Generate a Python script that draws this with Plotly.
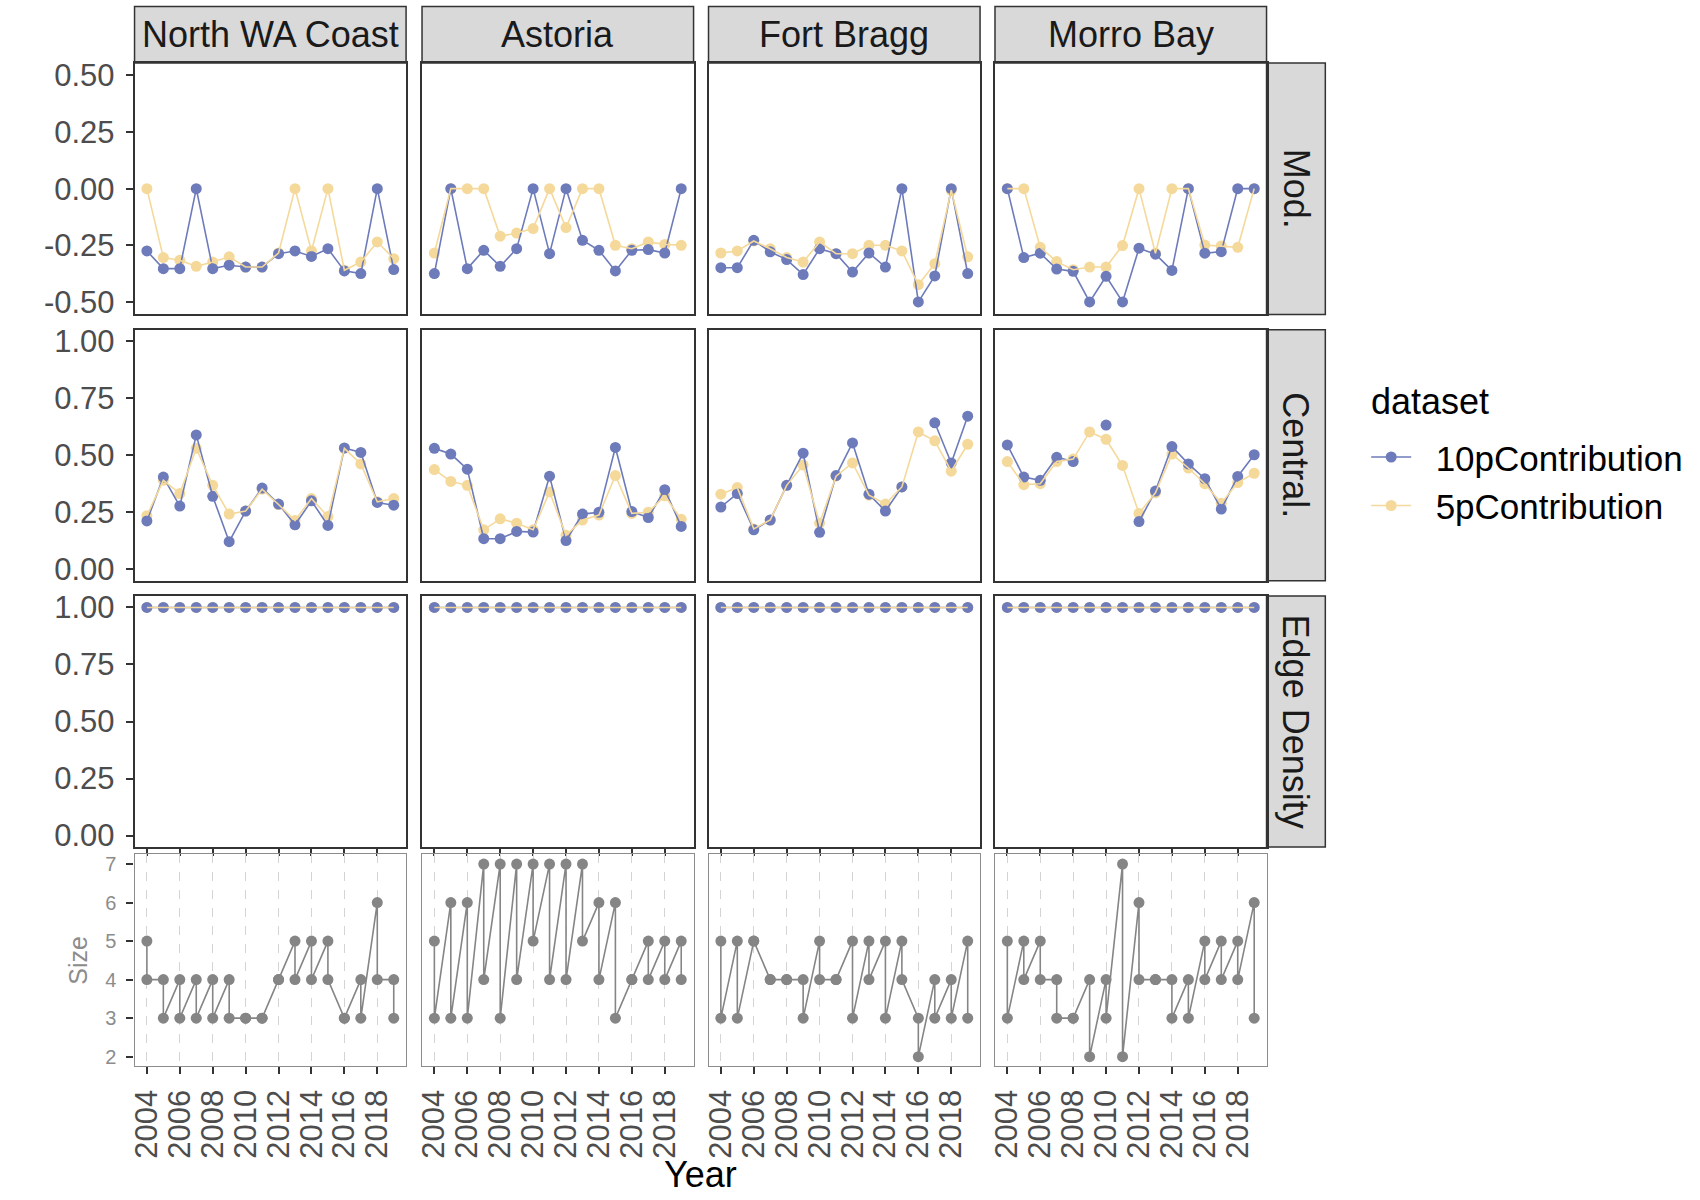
import plotly.graph_objects as go

# ---- data ----
years = list(range(2004, 2020))
sites = ["North WA Coast", "Astoria", "Fort Bragg", "Morro Bay"]
metrics = ["Mod.", "Central.", "Edge Density"]
series_names = ["10pContribution", "5pContribution"]
mod_ticks = [-0.5, -0.25, 0, 0.25, 0.5]
mod_ticktext = ["-0.50", "-0.25", "0.00", "0.25", "0.50"]
unit_ticks = [0, 0.25, 0.5, 0.75, 1.0]
size_ticks = [2, 3, 4, 5, 6, 7]

# Mod. row, one list per site
mod_10p = [
    [-0.275, -0.353, -0.353, 0.0, -0.353, -0.338, -0.346, -0.346, -0.287, -0.275, -0.299, -0.265, -0.363, -0.375, 0.0, -0.357],
    [-0.375, 0.0, -0.353, -0.272, -0.343, -0.265, 0.0, -0.287, 0.0, -0.228, -0.272, -0.363, -0.272, -0.269, -0.284, 0.0],
    [-0.349, -0.349, -0.228, -0.279, -0.313, -0.379, -0.265, -0.287, -0.368, -0.284, -0.346, 0.0, -0.5, -0.385, 0.0, -0.375],
    [0.0, -0.304, -0.285, -0.355, -0.365, -0.5, -0.387, -0.5, -0.263, -0.289, -0.361, 0.0, -0.285, -0.278, 0.0, 0.0],
]
mod_5p = [
    [0.0, -0.304, -0.316, -0.343, -0.324, -0.301, -0.346, -0.346, -0.284, 0.0, -0.275, 0.0, -0.36, -0.324, -0.235, -0.309],
    [-0.284, 0.0, 0.0, 0.0, -0.21, -0.196, -0.176, 0.0, -0.172, 0.0, 0.0, -0.25, -0.265, -0.235, -0.246, -0.25],
    [-0.284, -0.275, -0.231, -0.265, -0.304, -0.324, -0.235, -0.287, -0.287, -0.25, -0.25, -0.275, -0.424, -0.331, -0.007, -0.301],
    [0.0, 0.0, -0.259, -0.322, -0.358, -0.346, -0.346, -0.251, 0.0, -0.285, 0.0, 0.0, -0.249, -0.253, -0.259, 0.0],
]

# Central. row
cen_10p = [
    [0.212, 0.404, 0.277, 0.589, 0.320, 0.121, 0.255, 0.356, 0.286, 0.195, 0.300, 0.192, 0.532, 0.512, 0.293, 0.281],
    [0.530, 0.505, 0.439, 0.134, 0.134, 0.166, 0.163, 0.408, 0.126, 0.242, 0.250, 0.534, 0.253, 0.227, 0.349, 0.188],
    [0.273, 0.332, 0.173, 0.216, 0.368, 0.509, 0.162, 0.411, 0.554, 0.329, 0.255, 0.361, None, 0.642, 0.466, 0.671],
    [0.545, 0.404, 0.390, 0.491, 0.472, None, 0.632, None, 0.209, 0.343, 0.538, 0.462, 0.397, 0.264, 0.407, 0.502],
]
cen_5p = [
    [0.235, 0.390, 0.332, 0.530, 0.368, 0.242, 0.255, 0.351, 0.284, 0.214, 0.310, 0.231, 0.530, 0.462, 0.296, 0.310],
    [0.437, 0.385, 0.368, 0.173, 0.221, 0.202, 0.173, 0.339, 0.149, 0.216, 0.238, 0.411, 0.245, 0.250, 0.322, 0.219],
    [0.329, 0.358, 0.177, 0.216, 0.368, 0.457, 0.202, 0.408, 0.466, 0.325, 0.286, 0.361, 0.602, 0.563, 0.430, 0.548],
    [0.472, 0.371, 0.375, 0.472, 0.483, 0.602, 0.570, 0.455, 0.245, 0.335, 0.505, 0.444, 0.375, 0.289, 0.380, 0.421],
]

# Edge Density row
edge_10p = [
    [1.00, 1.00, 1.00, 1.00, 1.00, 1.00, 1.00, 1.00, 1.00, 1.00, 1.00, 1.00, 1.00, 1.00, 1.00, 1.00],
    [1.00, 1.00, 1.00, 1.00, 1.00, 1.00, 1.00, 1.00, 1.00, 1.00, 1.00, 1.00, 1.00, 1.00, 1.00, 1.00],
    [1.00, 1.00, 1.00, 1.00, 1.00, 1.00, 1.00, 1.00, 1.00, 1.00, 1.00, 1.00, 1.00, 1.00, 1.00, 1.00],
    [1.00, 1.00, 1.00, 1.00, 1.00, 1.00, 1.00, 1.00, 1.00, 1.00, 1.00, 1.00, 1.00, 1.00, 1.00, 1.00],
]
edge_5p = [
    [1.00, 1.00, 1.00, 1.00, 1.00, 1.00, 1.00, 1.00, 1.00, 1.00, 1.00, 1.00, 1.00, 1.00, 1.00, 1.00],
    [1.00, 1.00, 1.00, 1.00, 1.00, 1.00, 1.00, 1.00, 1.00, 1.00, 1.00, 1.00, 1.00, 1.00, 1.00, 1.00],
    [1.00, 1.00, 1.00, 1.00, 1.00, 1.00, 1.00, 1.00, 1.00, 1.00, 1.00, 1.00, 1.00, 1.00, 1.00, 1.00],
    [1.00, 1.00, 1.00, 1.00, 1.00, 1.00, 1.00, 1.00, 1.00, 1.00, 1.00, 1.00, 1.00, 1.00, 1.00, 1.00],
]

# Size row: two values per year, in drawing order
size_vals = [
    [5, 4, 4, 3, 4, 3, 4, 3, 4, 3, 4, 3, 3, 3, 3, 3, 4, 4, 5, 4, 5, 4, 5, 4, 3, 3, 4, 3, 6, 4, 4, 3],
    [5, 3, 6, 3, 6, 3, 7, 4, 7, 3, 7, 4, 7, 5, 7, 4, 7, 4, 7, 5, 6, 4, 6, 3, 4, 4, 5, 4, 5, 4, 5, 4],
    [5, 3, 5, 3, 5, 5, 4, 4, 4, 4, 4, 3, 5, 4, 4, 4, 5, 3, 5, 4, 5, 3, 5, 4, 3, 2, 4, 3, 4, 3, 5, 3],
    [5, 3, 5, 4, 5, 4, 4, 3, 3, 3, 4, 2, 4, 3, 7, 2, 6, 4, 4, 4, 4, 3, 4, 3, 5, 4, 5, 4, 5, 4, 6, 3],
]
size_years = [y for y in years for _ in range(2)]

# ---- styling ----
W, H = 1700, 1200
FONT = "Liberation Sans, Arial, sans-serif"
BLUE = "#6D7BBB"
YELLOW = "#F5D99A"
GREY_PT = "#858585"
col_left = [129, 417.5, 705, 992.5]
col_w = 272.5
row_px = [(57.5, 311.5), (327, 580.5), (596, 849.5), (857, 1071)]
y_ranges = [[-0.555, 0.555], [-0.05, 1.05], [-0.05, 1.05], [1.75, 7.25]]
even_years = years[::2]
PT = 11


def fx(p):
    return p / W


def fy(p):
    return 1 - p / H


fig = go.Figure()
layout_axes = {}

row_data = [(mod_10p, mod_5p), (cen_10p, cen_5p), (edge_10p, edge_5p)]

for r in range(4):
    for c in range(4):
        n = r * 4 + c + 1
        xs = "x" if n == 1 else f"x{n}"
        ys = "y" if n == 1 else f"y{n}"
        xa = dict(
            domain=[fx(col_left[c]), fx(col_left[c] + col_w)],
            anchor=ys, range=[2003.25, 2019.75],
            showline=True, mirror=True, zeroline=False,
            tickvals=even_years, showticklabels=False,
        )
        ya = dict(
            domain=[fy(row_px[r][1]), fy(row_px[r][0])],
            anchor=xs, range=y_ranges[r],
            showline=True, mirror=True, zeroline=False, showgrid=False,
        )
        if r < 3:
            xa.update(linecolor="#333333", linewidth=1.5, showgrid=False,
                      ticks="outside" if r == 2 else "", ticklen=7,
                      tickwidth=1.5, tickcolor="#333333")
            ya.update(linecolor="#333333", linewidth=1.5)
            if c == 0:
                ya.update(ticks="outside", ticklen=7, tickwidth=1.5, tickcolor="#333333",
                          ticklabelstandoff=5,
                          tickfont=dict(family=FONT, size=31, color="#4D4D4D"))
                if r == 0:
                    ya.update(tickvals=mod_ticks, ticktext=mod_ticktext)
                else:
                    ya.update(tickvals=unit_ticks, tickformat=".2f")
            else:
                ya.update(showticklabels=False, ticks="")
            d10, d5 = row_data[r]
            fig.add_trace(go.Scatter(x=years, y=d5[c], mode="markers", xaxis=xs, yaxis=ys,
                                     marker=dict(color=YELLOW, size=PT), showlegend=False))
            fig.add_trace(go.Scatter(x=years, y=d10[c], mode="lines+markers", xaxis=xs, yaxis=ys,
                                     line=dict(color=BLUE, width=1.6),
                                     marker=dict(color=BLUE, size=PT), showlegend=False))
            fig.add_trace(go.Scatter(x=years, y=d5[c], mode="lines", xaxis=xs, yaxis=ys,
                                     line=dict(color=YELLOW, width=1.6), showlegend=False))
        else:
            xa.update(linecolor="#8C8C8C", linewidth=1.2,
                      showgrid=True, gridcolor="#D4D4D4", gridwidth=1.4, griddash="dash",
                      ticks="outside", ticklen=7, tickwidth=1.5, tickcolor="#333333",
                      showticklabels=True, tickangle=-90, ticklabelstandoff=3,
                      tickfont=dict(family=FONT, size=31, color="#4D4D4D"))
            ya.update(linecolor="#8C8C8C", linewidth=1.2, tickvals=size_ticks)
            if c == 0:
                ya.update(ticks="outside", ticklen=7, tickwidth=1.5, tickcolor="#333333",
                          ticklabelstandoff=6,
                          tickfont=dict(family=FONT, size=20, color="#8C8C8C"),
                          title=dict(text="Size", standoff=10,
                                     font=dict(family=FONT, size=25, color="#8C8C8C")))
            else:
                ya.update(showticklabels=False, ticks="")
            fig.add_trace(go.Scatter(x=size_years, y=size_vals[c], mode="lines+markers",
                                     xaxis=xs, yaxis=ys,
                                     line=dict(color=GREY_PT, width=1.6),
                                     marker=dict(color=GREY_PT, size=PT), showlegend=False))
        layout_axes["xaxis" if n == 1 else f"xaxis{n}"] = xa
        layout_axes["yaxis" if n == 1 else f"yaxis{n}"] = ya

# legend keys (small gap between key and label like ggplot)
for name, colr in zip(series_names, [BLUE, YELLOW]):
    fig.add_trace(go.Scatter(x=[None], y=[None], mode="lines+markers",
                             name="\u00a0\u00a0" + name,
                             legendgroup=name, line=dict(color=colr, width=1.6),
                             marker=dict(color=colr, size=PT)))

shapes = []
annotations = []
# top strips
for c, site in enumerate(sites):
    shapes.append(dict(type="rect", xref="paper", yref="paper",
                       x0=fx(col_left[c]), x1=fx(col_left[c] + col_w), y0=fy(57.5), y1=fy(0.5),
                       fillcolor="#D9D9D9", line=dict(color="#333333", width=1.5), layer="below"))
    annotations.append(dict(text=site, xref="paper", yref="paper", showarrow=False,
                            x=fx(col_left[c] + col_w / 2), y=fy(29), xanchor="center", yanchor="middle",
                            font=dict(family=FONT, size=36, color="#1A1A1A")))
# right strips
for r, m in enumerate(metrics):
    shapes.append(dict(type="rect", xref="paper", yref="paper",
                       x0=fx(1265), x1=fx(1324), y0=fy(row_px[r][1]), y1=fy(row_px[r][0]),
                       fillcolor="#D9D9D9", line=dict(color="#333333", width=1.5), layer="below"))
    annotations.append(dict(text=m, xref="paper", yref="paper", showarrow=False, textangle=90,
                            x=fx(1294.5), y=fy((row_px[r][0] + row_px[r][1]) / 2),
                            xanchor="center", yanchor="middle",
                            font=dict(family=FONT, size=36, color="#1A1A1A")))
annotations.append(dict(text="Year", xref="paper", yref="paper", showarrow=False,
                        x=fx(697), y=fy(1180), xanchor="center", yanchor="middle",
                        font=dict(family=FONT, size=36, color="#000000")))
annotations.append(dict(text="dataset", xref="paper", yref="paper", showarrow=False,
                        x=fx(1368), y=fy(399), xanchor="left", yanchor="middle",
                        font=dict(family=FONT, size=36, color="#000000")))

fig.update_layout(
    width=W, height=H,
    margin=dict(l=0, r=0, t=0, b=0),
    paper_bgcolor="white", plot_bgcolor="white",
    font=dict(family=FONT),
    shapes=shapes, annotations=annotations,
    legend=dict(x=fx(1365), y=fy(426), xanchor="left", yanchor="top",
                font=dict(family=FONT, size=35, color="#000000"),
                tracegroupgap=0, itemwidth=40, bgcolor="rgba(0,0,0,0)"),
    **layout_axes,
)

fig.write_html("out.html", config={"displayModeBar": False},
               post_script="document.body.style.margin='0px';")
